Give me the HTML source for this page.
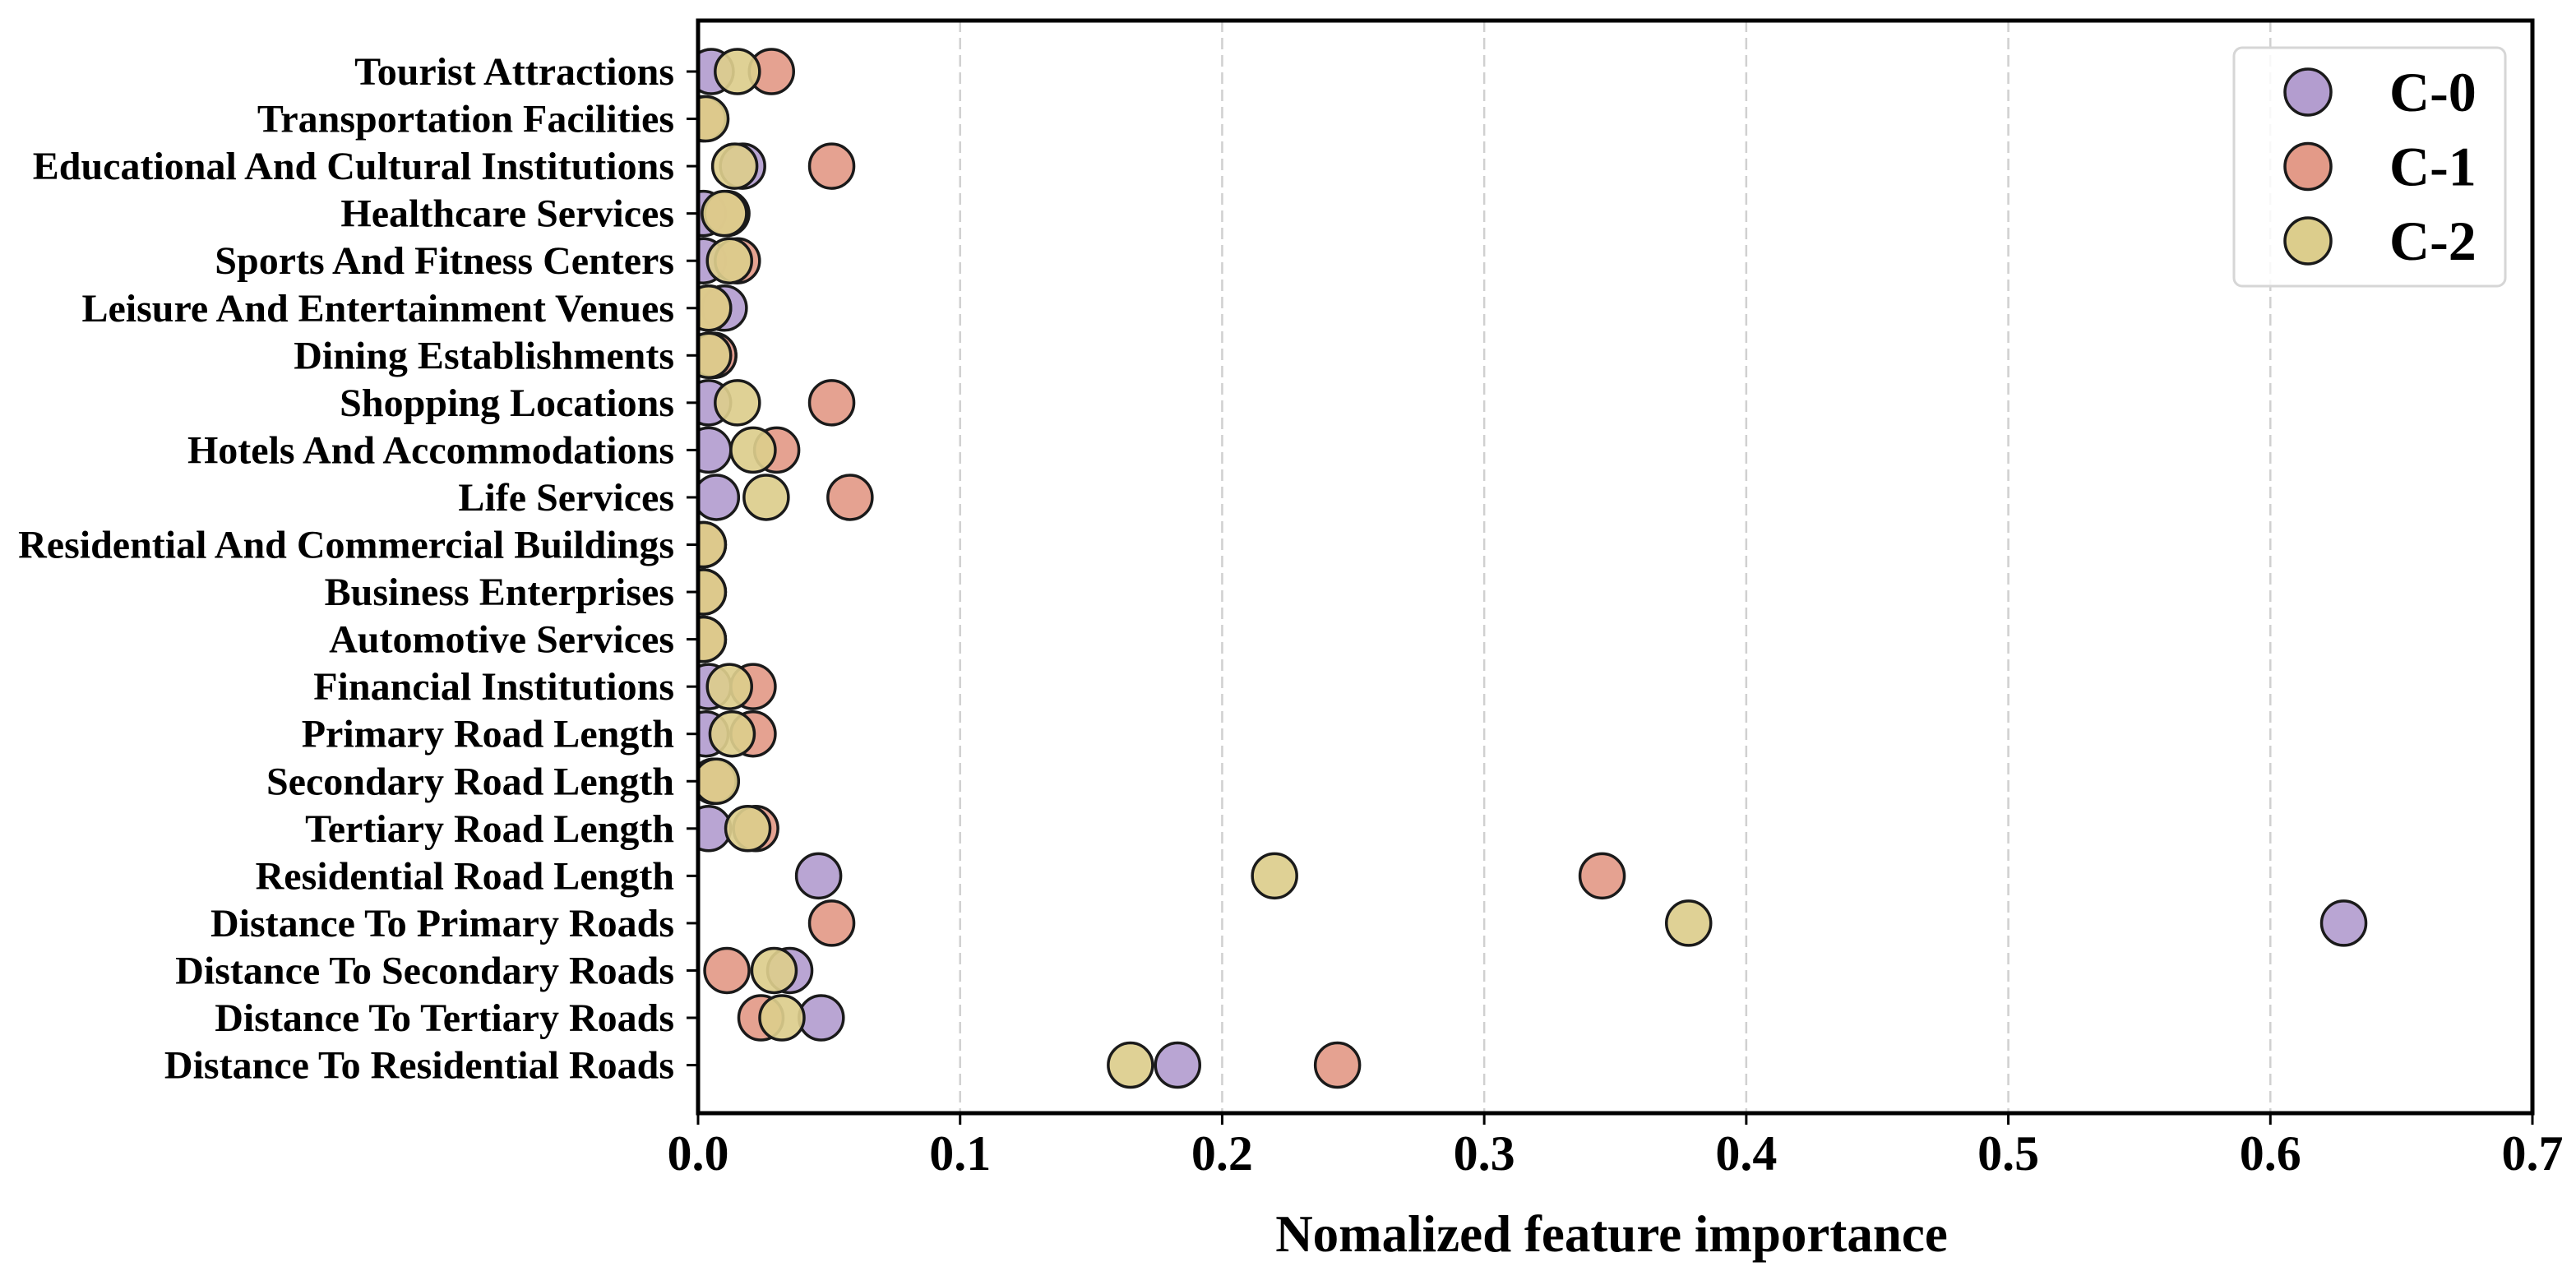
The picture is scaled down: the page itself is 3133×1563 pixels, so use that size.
<!DOCTYPE html>
<html><head><meta charset="utf-8"><style>
html,body{margin:0;padding:0;background:#fff}
svg{display:block}
text{font-family:"Liberation Serif",serif;font-weight:bold;fill:#000}
</style></head><body>
<svg id="chart" xmlns="http://www.w3.org/2000/svg" width="3133" height="1563" viewBox="0 0 3133 1563">
<defs><clipPath id="plotclip"><rect x="849" y="25" width="2231" height="1329"/></clipPath></defs>
<g id="grid"></g>
<g id="marks" clip-path="url(#plotclip)"></g>
<rect x="849" y="25" width="2231" height="1329" fill="none" stroke="#000" stroke-width="5"/>
<g id="yaxis"></g>
<g id="xaxis"></g>
<text x="1960" y="1522" font-size="63" text-anchor="middle">Nomalized feature importance</text>
<g>
<rect x="2717" y="58" width="330" height="290" rx="10" fill="#fff" fill-opacity="0.85" stroke="#d6d6d6" stroke-width="3"/>
<g id="legend-entries"></g>
</g>
</svg>
<script>
const categories = ["Tourist Attractions","Transportation Facilities","Educational And Cultural Institutions","Healthcare Services","Sports And Fitness Centers","Leisure And Entertainment Venues","Dining Establishments","Shopping Locations","Hotels And Accommodations","Life Services","Residential And Commercial Buildings","Business Enterprises","Automotive Services","Financial Institutions","Primary Road Length","Secondary Road Length","Tertiary Road Length","Residential Road Length","Distance To Primary Roads","Distance To Secondary Roads","Distance To Tertiary Roads","Distance To Residential Roads"];
const c0Values = [0.005,0.002,0.017,0.002,0.002,0.010,0.006,0.004,0.004,0.007,0.002,0.002,0.002,0.004,0.003,0.006,0.004,0.046,0.628,0.035,0.047,0.183];
const c1Values = [0.028,0.002,0.051,0.011,0.015,0.004,0.006,0.051,0.030,0.058,0.002,0.002,0.002,0.021,0.021,0.006,0.022,0.345,0.051,0.011,0.024,0.244];
const c2Values = [0.015,0.003,0.014,0.010,0.012,0.004,0.004,0.015,0.021,0.026,0.002,0.002,0.002,0.012,0.013,0.007,0.019,0.220,0.378,0.029,0.032,0.165];
const seriesNames = ["C-0","C-1","C-2"];
const xTicks = [0,0.1,0.2,0.3,0.4,0.5,0.6,0.7];
const xTickLabels = ["0.0","0.1","0.2","0.3","0.4","0.5","0.6","0.7"];

const NS="http://www.w3.org/2000/svg";
const colors=["#b39dcf","#e39a88","#dccd8c"];
const X0=849,X1=3080;
const xScale=v=>X0+(v/0.7)*(X1-X0);
const yScale=i=>87+i*57.55;
function mk(tag,attrs,parent){const e=document.createElementNS(NS,tag);for(const k in attrs)e.setAttribute(k,attrs[k]);parent.appendChild(e);return e;}
const grid=document.getElementById('grid'),marks=document.getElementById('marks'),ya=document.getElementById('yaxis'),xa=document.getElementById('xaxis'),lg=document.getElementById('legend-entries');
xTicks.forEach((t,i)=>{
  const x=xScale(t);
  if(t>0&&t<0.7){const g=mk('line',{x1:x,x2:x,y1:25,y2:1354,stroke:'#d0d0d0','stroke-width':2.5,'stroke-dasharray':'14,7'},grid);
  
  }
  const tk=mk('line',{x1:x,x2:x,y1:1354,y2:1368,stroke:'#000','stroke-width':3},xa);
  
  
  const tl=mk('text',{x:x,y:1423,'font-size':60,'text-anchor':'middle'},xa);
  tl.textContent=xTickLabels[i];
  
  
});
categories.forEach((c,i)=>{
  const y=yScale(i);
  const tk=mk('line',{x1:835,x2:849,y1:y,y2:y,stroke:'#000','stroke-width':3},ya);
  
  
  const tl=mk('text',{x:820,y:y+16,'font-size':48,'text-anchor':'end'},ya);
  tl.textContent=c;
  
  
});
[c0Values,c1Values,c2Values].forEach((vals,s)=>{
  vals.forEach((v,i)=>{
    const p=mk('circle',{cx:xScale(v),cy:yScale(i),r:27,fill:colors[s],'fill-opacity':0.92,stroke:'#1a1a1a','stroke-width':3.5},marks);
    
    
  });
});
seriesNames.forEach((n,s)=>{
  const y=112+s*90.5;
  const m=mk('circle',{cx:2807,cy:y,r:28,fill:colors[s],stroke:'#1a1a1a','stroke-width':3.5},lg);
  
  
  const t=mk('text',{x:2906,y:y+23,'font-size':68},lg);
  t.textContent=n;
  
  
});
</script>
</body></html>
